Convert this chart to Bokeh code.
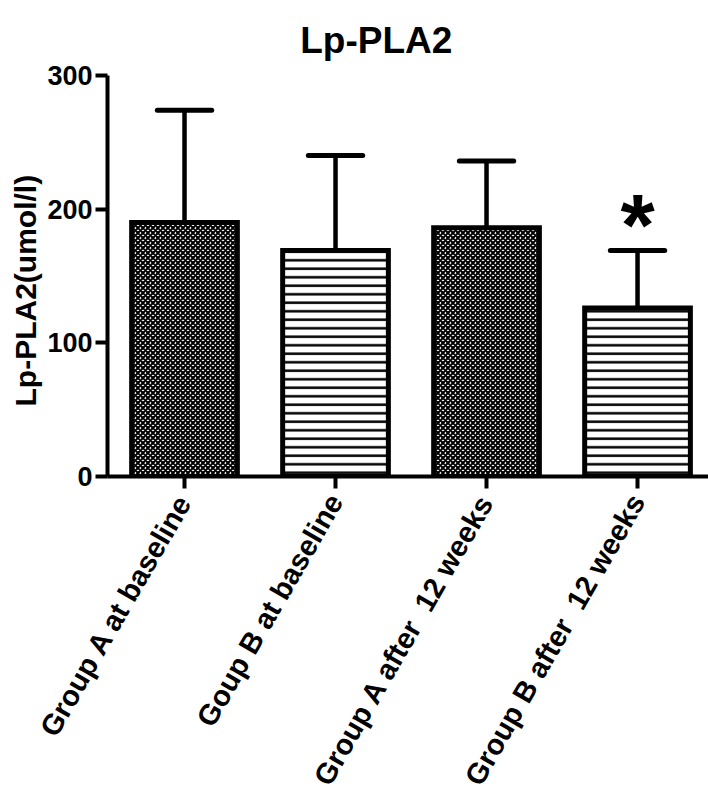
import math
from bokeh.plotting import figure
from bokeh.models import Range1d, FixedTicker, ColumnDataSource, Label, Title
from bokeh.core.properties import value
from bokeh.embed import file_html
from bokeh.resources import INLINE

# ---- data ----
title_text = "Lp-PLA2"
y_label = "Lp-PLA2(umol/l)"
categories = ["Group A at baseline", "Goup B at baseline",
              "Group A after\u00a0 12 weeks", "Group B after\u00a0 12 weeks"]
means = [190, 169, 186, 126]
upper = [274, 240, 236, 169]
patterns = ["diagonal_cross", "horizontal_line", "diagonal_cross", "horizontal_line"]
sig = ["", "", "", "*"]
y_ticks = [0, 100, 200, 300]

FONT = "Liberation Sans"
xs = list(range(len(categories)))
scale_map = {"diagonal_cross": 5, "horizontal_line": 8.5}
weight_map = {"diagonal_cross": 2, "horizontal_line": 2.5}

src = ColumnDataSource(dict(x=xs, mean=means, upper=upper, pattern=patterns,
                            hscale=[scale_map[k] for k in patterns],
                            hweight=[weight_map[k] for k in patterns],
                            left=[v - 0.18 for v in xs], right=[v + 0.18 for v in xs],
                            sig=sig))

# frame extends above the axis so the title sits inside the canvas area
p = figure(width=708, height=806, output_backend="svg", toolbar_location=None,
           x_range=Range1d(-0.51, 3.47), y_range=Range1d(0, 356),
           min_border_left=107, min_border_right=0, min_border_top=0, min_border_bottom=330)
p.outline_line_color = None
p.grid.visible = False
p.background_fill_color = "white"

p.add_layout(Label(x=1.27, y=326, text=title_text,
                   text_font=FONT, text_font_size="37px", text_font_style="bold",
                   text_color="black", text_align="center", text_baseline="alphabetic"))

# error bars (upper only)
p.segment(x0="x", y0="mean", x1="x", y1="upper", source=src,
          line_color="black", line_width=4.5)
p.segment(x0="left", y0="upper", x1="right", y1="upper", source=src,
          line_color="black", line_width=5, line_cap="round")

# bars
p.vbar(x="x", top="mean", bottom=0, width=0.7, source=src,
       fill_color="white", line_color="black", line_width=5, line_join="miter",
       hatch_pattern="pattern", hatch_color="black", hatch_scale="hscale", hatch_weight="hweight")

# significance marker
p.text(x="x", y="upper", text="sig", source=src, text_font=value(FONT),
       text_font_size="88px", text_font_style="bold", text_align="center",
       text_baseline="alphabetic", y_offset=-26, text_color="black")

# axes
for ax in (p.xaxis[0], p.yaxis[0]):
    ax.axis_line_width = 4
    ax.axis_line_color = "black"
    ax.major_tick_line_width = 4
    ax.major_tick_line_color = "black"
    ax.major_tick_out = 12
    ax.major_tick_in = 0
    ax.minor_tick_line_color = None
    ax.major_label_text_font = FONT
    ax.major_label_text_font_style = "bold"
    ax.major_label_text_color = "black"

p.yaxis.ticker = FixedTicker(ticks=y_ticks)
p.yaxis.bounds = (y_ticks[0], y_ticks[-1])
p.yaxis.major_label_text_font_size = "27px"
p.yaxis.major_label_standoff = 3

# y-axis title, placed beside the axis and centred on the 0-300 span
p.add_layout(Title(text=y_label, text_font=FONT, text_font_size="30px",
                   text_font_style="bold", text_color="black",
                   align="left", offset=70, standoff=6), "left")

p.xaxis.ticker = FixedTicker(ticks=xs)
p.xaxis.major_label_overrides = {i: c for i, c in zip(xs, categories)}
p.xaxis.major_label_orientation = math.pi / 3
p.xaxis.major_label_text_font_size = "29px"
p.xaxis.major_label_standoff = 8

open("out.html", "w").write(file_html(p, INLINE))
